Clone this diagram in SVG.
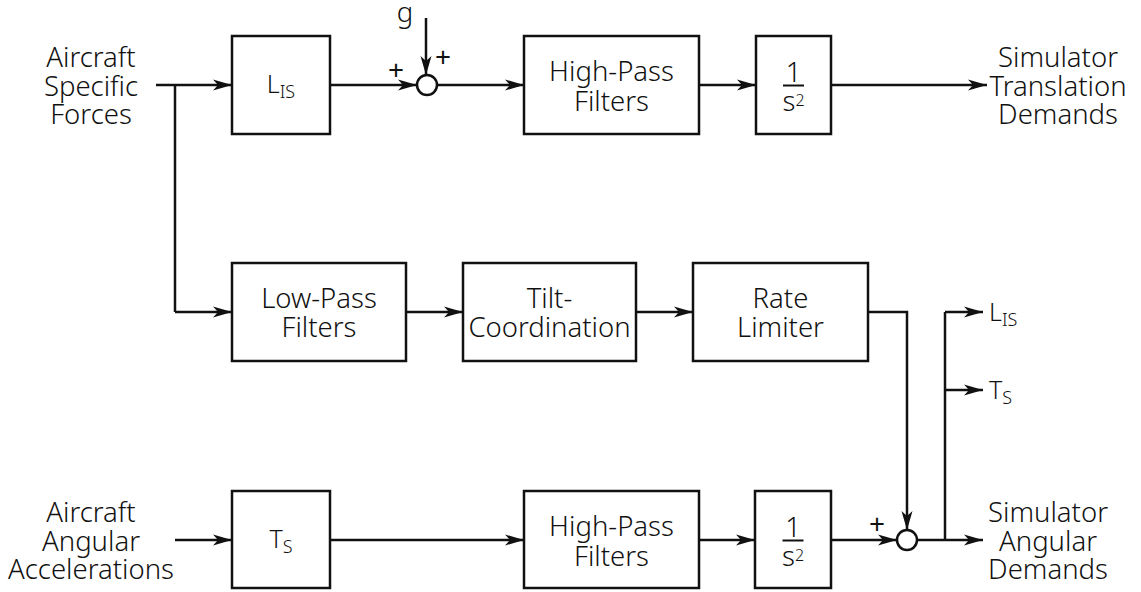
<svg xmlns="http://www.w3.org/2000/svg" width="1141" height="592" viewBox="0 0 1141 592">
<style>
  .box{fill:#fff;stroke:#111;stroke-width:2.5}
  .ln{fill:none;stroke:#111;stroke-width:2.5}
  .arr{marker-end:url(#ah)}
  .sum{fill:#fff;stroke:#111;stroke-width:2.5}
  text{font-family:"Noto Sans","Open Sans","Liberation Sans",sans-serif;font-weight:300;fill:#111;font-size:27.5px}
  .c{text-anchor:middle}
  .sym{font-size:25px}
  .pm{font-size:28px;font-weight:400;text-anchor:middle}
</style>
<defs>
  <marker id="ah" markerUnits="userSpaceOnUse" markerWidth="20" markerHeight="12" refX="19" refY="6" orient="auto">
    <path d="M0,0.5 L19,6 L0,11.5 L5,6 z" fill="#111"/>
  </marker>
</defs>
<rect width="1141" height="592" fill="#fff"/>

<g id="connectors">
  <path class="ln arr" d="M156,85 H232"/>
  <path class="ln" d="M175,85 V312"/>
  <path class="ln arr" d="M175,312 H232"/>
  <path class="ln arr" d="M330,85 H417"/>
  <path class="ln arr" d="M426,18 V75"/>
  <path class="ln arr" d="M437,85 H524"/>
  <path class="ln arr" d="M699,85 H756"/>
  <path class="ln arr" d="M831,85 H987"/>
  <path class="ln arr" d="M406,312 H463"/>
  <path class="ln arr" d="M636,312 H693"/>
  <path class="ln arr" d="M868,312 H907 V530"/>
  <path class="ln arr" d="M175,540 H232"/>
  <path class="ln arr" d="M330,540 H524"/>
  <path class="ln arr" d="M699,540 H755"/>
  <path class="ln arr" d="M831,540 H897"/>
  <path class="ln arr" d="M917,540 H983"/>
  <path class="ln" d="M945,540 V312"/>
  <path class="ln arr" d="M945,312 H983"/>
  <path class="ln arr" d="M945,390 H983"/>
</g>

<g id="in-forces">
  <text class="c" x="91" y="67">Aircraft</text>
  <text class="c" x="91" y="95.5">Specific</text>
  <text class="c" x="91" y="124">Forces</text>
</g>
<g id="in-angular">
  <text class="c" x="91" y="522">Aircraft</text>
  <text class="c" x="91" y="550.5">Angular</text>
  <text class="c" x="91" y="579">Accelerations</text>
</g>

<g id="lis-box">
  <rect class="box" x="232" y="36" width="98" height="98"/>
  <text class="c sym" x="281" y="93">L<tspan font-size="18" dy="5">IS</tspan></text>
</g>
<g id="sum-top">
  <circle class="sum" cx="427" cy="85" r="10"/>
  <text x="405" y="22" class="c">g</text>
  <text class="pm" x="396" y="80">+</text>
  <text class="pm" x="443" y="67">+</text>
</g>
<g id="hp-top">
  <rect class="box" x="524" y="36" width="175" height="98"/>
  <text class="c" x="611.5" y="81">High-Pass</text>
  <text class="c" x="611.5" y="111">Filters</text>
</g>
<g id="int-top">
  <rect class="box" x="756" y="36" width="75" height="98"/>
  <text class="c" x="793.5" y="82">1</text>
  <line class="ln" x1="783" y1="85.5" x2="804" y2="85.5" style="stroke-width:2"/>
  <text class="c" x="793.5" y="111">s<tspan font-size="16" dy="-5">2</tspan></text>
</g>
<g id="out-translation">
  <text class="c" x="1058" y="67">Simulator</text>
  <text class="c" x="1058" y="95.5">Translation</text>
  <text class="c" x="1058" y="124">Demands</text>
</g>

<g id="lp-box">
  <rect class="box" x="232" y="263" width="174" height="98"/>
  <text class="c" x="319" y="308">Low-Pass</text>
  <text class="c" x="319" y="337">Filters</text>
</g>
<g id="tilt-box">
  <rect class="box" x="463" y="263" width="173" height="98"/>
  <text class="c" x="549.5" y="308">Tilt-</text>
  <text class="c" x="549.5" y="337">Coordination</text>
</g>
<g id="rate-box">
  <rect class="box" x="693" y="263" width="175" height="98"/>
  <text class="c" x="780.5" y="308">Rate</text>
  <text class="c" x="780.5" y="337">Limiter</text>
</g>

<g id="ts-box">
  <rect class="box" x="232" y="491" width="98" height="97"/>
  <text class="c sym" x="281" y="548">T<tspan font-size="18" dy="5">S</tspan></text>
</g>
<g id="hp-bottom">
  <rect class="box" x="524" y="491" width="175" height="97"/>
  <text class="c" x="611.5" y="536">High-Pass</text>
  <text class="c" x="611.5" y="566">Filters</text>
</g>
<g id="int-bottom">
  <rect class="box" x="755" y="491" width="76" height="97"/>
  <text class="c" x="793" y="537">1</text>
  <line class="ln" x1="782.5" y1="540.5" x2="803.5" y2="540.5" style="stroke-width:2"/>
  <text class="c" x="793" y="566">s<tspan font-size="16" dy="-5">2</tspan></text>
</g>
<g id="sum-bottom">
  <circle class="sum" cx="907" cy="540" r="10"/>
  <text class="pm" x="877" y="534">+</text>
</g>
<g id="out-lis">
  <text class="sym" x="989" y="321">L<tspan font-size="18" dy="5">IS</tspan></text>
</g>
<g id="out-ts">
  <text class="sym" x="989" y="399">T<tspan font-size="18" dy="5">S</tspan></text>
</g>
<g id="out-angular">
  <text class="c" x="1048" y="522">Simulator</text>
  <text class="c" x="1048" y="550.5">Angular</text>
  <text class="c" x="1048" y="579">Demands</text>
</g>
</svg>
